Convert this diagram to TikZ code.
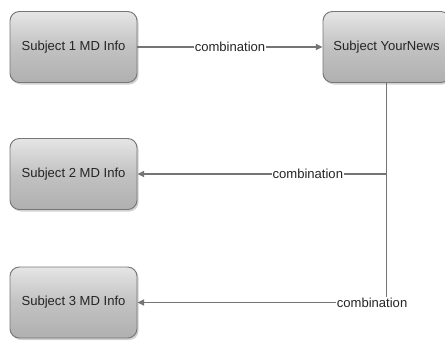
\documentclass[tikz,border=0pt]{standalone}
\usepackage{fontspec}
\setmainfont{Liberation Sans}
\usetikzlibrary{shadows,arrows.meta}
\definecolor{lineg}{HTML}{757575}
\definecolor{boxedge}{HTML}{777777}
\definecolor{txt}{HTML}{252525}
\tikzset{
  px/.style={x=0.75pt,y=-0.75pt},
  subj/.style={draw=boxedge, line width=0.7pt, rounded corners=7pt,
    minimum width=95.25pt, minimum height=53.25pt, inner sep=0pt,
    top color=gray!20, bottom color=gray!62, middle color=gray!48,
    drop shadow={opacity=0.35, shadow xshift=1.2pt, shadow yshift=-1.5pt},
    text=txt, font=\fontsize{9.8}{11}\selectfont},
  conn/.style={draw=lineg, line width=1.05pt, -{Triangle[length=5pt,width=4.5pt]}},
  lbl/.style={fill=white, inner sep=0.6pt, text=txt, font=\fontsize{9.8}{11}\selectfont}
}
\begin{document}
\begin{tikzpicture}[px]
\clip (0,0) rectangle (445,340);
\fill[white] (0,0) rectangle (445,340);
\node[subj] (s1) at (73.5,47) {Subject 1 MD Info};
\node[subj] (yn) at (386.5,47) {Subject YourNews};
\node[subj] (s2) at (73.5,174) {Subject 2 MD Info};
\node[subj] (s3) at (73.5,302.5) {Subject 3 MD Info};
\draw[conn] (s1.east) -- node[lbl] {combination} (yn.west);
\draw[conn] (yn.south) |- node[lbl, pos=0.658] {combination} (s2.east);
\draw[conn] (yn.south) |- node[lbl, pos=0.529] {combination} (s3.east);
\end{tikzpicture}
\end{document}
